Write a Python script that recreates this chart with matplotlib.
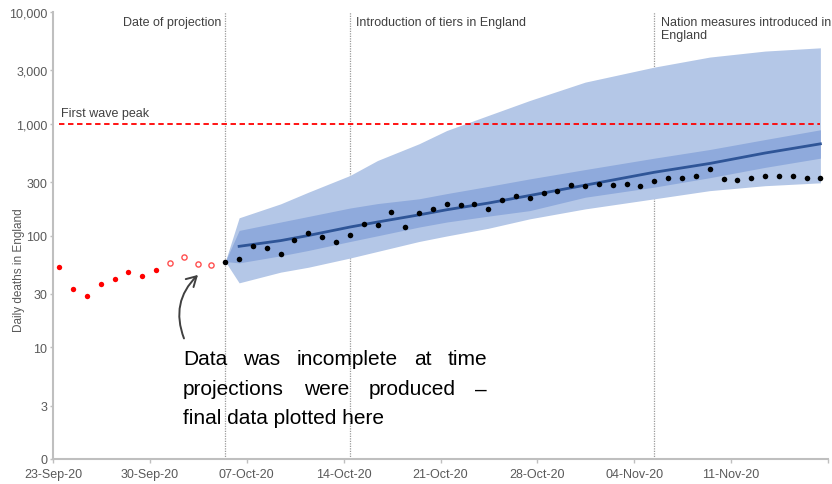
import matplotlib.pyplot as plt
from matplotlib.patches import FancyArrowPatch
from matplotlib.ticker import FixedLocator

plt.rcParams["font.family"] = ["Liberation Sans", "DejaVu Sans"]

# ---- data (x = days since 23-Sep-20) ----
DAY_OFFSET = 0.45   # points sit just right of the day tick

red_days = list(range(0, 8))
red_deaths = [52, 33, 29, 37, 41, 47, 43, 49]

open_days = list(range(8, 12))
open_deaths = [57, 64, 56, 54]

obs_days = list(range(12, 56))
obs_deaths = [58.5, 62, 81, 77, 68, 92, 105, 97, 88, 101,
              127, 123, 162, 120, 160, 172, 193, 187, 191, 172,
              207, 225, 217, 238, 250, 286, 278, 288, 284, 290,
              275, 309, 329, 324, 341, 393, 318, 313, 329, 338,
              338, 343, 329, 329]

band_days = [12, 13, 16, 18, 21, 23, 26, 28, 31, 34, 38, 43, 47, 51, 55]
outer_hi = [58.5, 144, 192, 244, 344, 469, 662, 870, 1186, 1615, 2357, 3212, 3950, 4470, 4780]
inner_hi = [58.5, 111, 132, 148, 176, 193, 213, 237, 275, 321, 389, 492, 588, 722, 883]
inner_lo = [58.5, 56.9, 65.8, 73.5, 88.3, 99.4, 119, 132, 149, 167, 220, 271, 329, 407, 492]
outer_lo = [58.5, 37.7, 47, 52, 62.8, 72, 88.4, 99, 116, 141, 173, 213, 252, 279, 296]

median_days = band_days[1:]
median = [80, 90, 100, 119, 132, 153, 170, 195, 228, 282, 368, 441, 547, 661]

FIRST_WAVE_PEAK = 1000
events = [(12, "Date of projection", "right"),
          (21, "Introduction of tiers in England", "left"),
          (43, "Nation measures introduced in\nEngland", "left")]

xtick_pos = [0, 7, 14, 21, 28, 35, 42, 49, 56]
xtick_labels = ["23-Sep-20", "30-Sep-20", "07-Oct-20", "14-Oct-20", "21-Oct-20",
                "28-Oct-20", "04-Nov-20", "11-Nov-20", ""]
ytick_pos = [1, 3, 10, 30, 100, 300, 1000, 3000, 10000]
ytick_labels = ["0", "3", "10", "30", "100", "300", "1,000", "3,000", "10,000"]

GREY_TXT = "#404040"
TICK_TXT = "#595959"
AXIS_COL = "#bfbfbf"


def sh(days):
    return [d + DAY_OFFSET for d in days]


fig = plt.figure(figsize=(8.32, 4.85), dpi=100)
ax = fig.add_axes([53 / 832, 1 - 460 / 485, 775 / 832, 447 / 485])

ax.set_yscale("log")
ax.set_ylim(1, 10000)
ax.set_xlim(0, 56)

# projection bands
ax.fill_between(sh(band_days), outer_lo, outer_hi, color="#b4c7e7", lw=0, zorder=1)
ax.fill_between(sh(band_days), inner_lo, inner_hi, color="#8faadc", lw=0, zorder=2)
ax.plot(sh(median_days), median, color="#2f5597", lw=2, zorder=3)

# first wave peak
ax.plot([sh([0])[0], sh([55])[0]], [FIRST_WAVE_PEAK] * 2, color="#ff0000",
        lw=1.3, dashes=(3, 2), zorder=4)
ax.text(0.55, FIRST_WAVE_PEAK * 1.1, "First wave peak", color=GREY_TXT,
        fontsize=9, ha="left", va="bottom")

# event lines
for d, label, side in events:
    x = d + DAY_OFFSET
    ax.axvline(x, color="#9a9a9a", lw=0.9, ls=(0, (1, 1)), zorder=0)
    tx = x - 0.3 if side == "right" else x + 0.45
    ax.text(tx, 9300, label, color=GREY_TXT, fontsize=9, ha=side, va="top",
            linespacing=1.15)

# deaths
ax.scatter(sh(red_days), red_deaths, s=15, color="#ff0000", lw=0, zorder=5)
ax.scatter(sh(open_days), open_deaths, s=14, facecolor="white",
           edgecolor="#ff5050", lw=1, zorder=5)
ax.scatter(sh(obs_days), obs_deaths, s=16, color="black", lw=0, zorder=6)

# axes styling
for s in ("top", "right"):
    ax.spines[s].set_visible(False)
for s in ("left", "bottom"):
    ax.spines[s].set_color(AXIS_COL)
    ax.spines[s].set_linewidth(1.5)
ax.yaxis.set_major_locator(FixedLocator(ytick_pos))
ax.yaxis.set_minor_locator(FixedLocator([]))
ax.set_yticklabels(ytick_labels)
ax.set_xticks(xtick_pos)
ax.set_xticklabels(xtick_labels)
ax.tick_params(colors=AXIS_COL, labelcolor=TICK_TXT, labelsize=9, length=3, width=1)
ax.tick_params(axis="y", length=2, pad=2)
ax.set_ylabel("Daily deaths in England", color=TICK_TXT, fontsize=8.5)
ax.yaxis.set_label_coords(-0.036, 0.425)

# note with justified lines, placed in figure pixels
px = fig.dpi_scale_trans
note_lines = ["Data was incomplete at time",
              "projections were produced \u2013",
              "final data plotted here"]
left, right = 183, 487
baselines = [365, 395.5, 424]
renderer = fig.canvas.get_renderer()
for i, (line, yb) in enumerate(zip(note_lines, baselines)):
    y = (485 - yb) / 100
    if i == len(note_lines) - 1:
        fig.text(left / 100, y, line, transform=px, fontsize=15, va="baseline")
        continue
    words = line.split()
    arts = [fig.text(0, y, w, transform=px, fontsize=15, va="baseline") for w in words]
    widths = [a.get_window_extent(renderer).width for a in arts]
    gap = (right - left - sum(widths)) / (len(words) - 1)
    x = left
    for a, w in zip(arts, widths):
        a.set_x(x / 100)
        x += w + gap

arrow = FancyArrowPatch((185 / 100, (485 - 342) / 100), (200 / 100, (485 - 274) / 100),
                        transform=px, arrowstyle="->,head_length=7,head_width=4",
                        connectionstyle="arc3,rad=-0.35", color="#404040", lw=1.4,
                        mutation_scale=1)
fig.add_artist(arrow)

fig.savefig("out.png", dpi=100)
